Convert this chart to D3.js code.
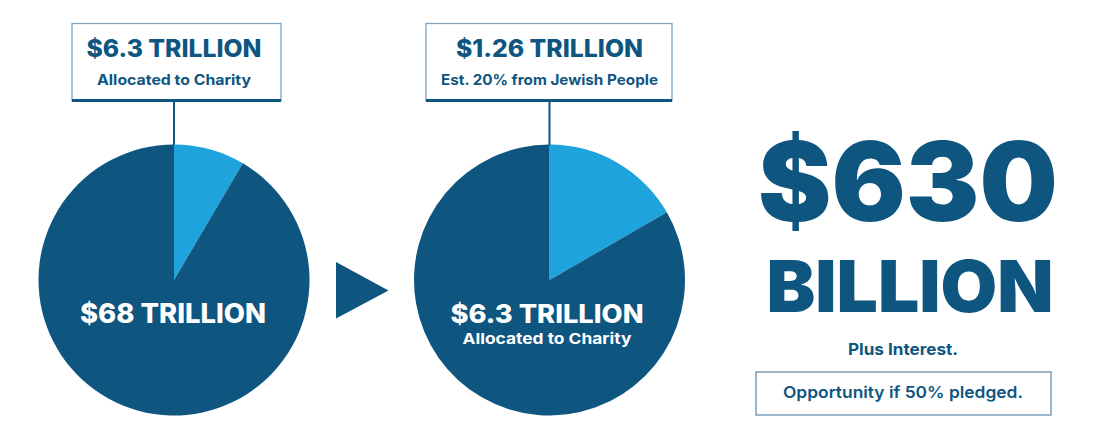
<!DOCTYPE html>
<html><head><meta charset="utf-8">
<script src="https://cdn.jsdelivr.net/npm/d3@7"></script>
<style>body{margin:0;background:#fff}svg{display:block}text{font-family:Inter,Lato,sans-serif}</style>
</head><body>
<svg id="c" width="1100" height="423"></svg>
<script>
// Data
const pie1Labels = ["Allocated to Charity", "Total Wealth"];
const pie1Values = [6.3, 68];
const pie2Labels = ["Est. 20% from Jewish People", "Allocated to Charity"];
const pie2Values = [1.26, 6.3];
const callout1 = ["$6.3 TRILLION", "Allocated to Charity"];
const callout2 = ["$1.26 TRILLION", "Est. 20% from Jewish People"];
const center1 = ["$68 TRILLION"];
const center2 = ["$6.3 TRILLION", "Allocated to Charity"];
const bigValue = ["$630", "BILLION"];
const notes = ["Plus Interest.", "Opportunity if 50% pledged."];

const DARK = "#0e5580", LIGHT = "#1ea3dc", BORDER = "#7fa3bf";
const svg = d3.select("#c");
const pie = d3.pie().sort(null).startAngle(0).endAngle(2 * Math.PI);
const arc = d3.arc().innerRadius(0).outerRadius(135.5);
const color = d3.scaleOrdinal().domain([0, 1]).range([LIGHT, DARK]);

function txt(g, s, x, y, size, weight, fill, width) {
  const t = g.append("text").attr("x", x).attr("y", y).attr("text-anchor", "middle")
    .attr("font-size", size).attr("font-weight", weight).attr("fill", fill).text(s);
  if (width) t.attr("textLength", width).attr("lengthAdjust", "spacingAndGlyphs");
  return t;
}

function drawPie(cx, values, box, callout, capW) {
  const g = svg.append("g");
  g.append("line").attr("x1", cx).attr("x2", cx).attr("y1", box.y + box.h).attr("y2", 146)
    .attr("stroke", DARK).attr("stroke-width", 2);
  const pg = g.append("g").attr("transform", `translate(${cx},280)`);
  pg.selectAll("path").data(pie(values)).join("path")
    .attr("d", arc).attr("fill", (d, i) => color(i));
  g.append("rect").attr("x", box.x).attr("y", box.y).attr("width", box.w).attr("height", box.h)
    .attr("fill", "#fff").attr("stroke", BORDER).attr("stroke-width", 1.3);
  g.append("line").attr("x1", box.x).attr("x2", box.x + box.w).attr("y1", box.y + box.h).attr("y2", box.y + box.h)
    .attr("stroke", DARK).attr("stroke-width", 3);
  txt(g, callout[0], cx, 56.5, 24, 800, DARK, capW[0]);
  txt(g, callout[1], cx, 84.5, 14.5, 700, DARK, capW[1]);
  return g;
}

const g1 = drawPie(174, pie1Values, {x: 72, y: 23.5, w: 209, h: 77}, callout1, [175, 154]);
txt(g1, center1[0], 173, 323, 27, 800, "#fff", 186);

const g2 = drawPie(549.5, pie2Values, {x: 426, y: 23.5, w: 246, h: 77}, callout2, [187, 217]);
txt(g2, center2[0], 547, 323, 25.5, 800, "#fff", 193);
txt(g2, center2[1], 547, 344, 15, 700, "#fff", 169);

// arrow
svg.append("path").attr("d", d3.line()([[336, 262], [388.5, 290.5], [336, 318.5]])).attr("fill", DARK);

// right side
const r = svg.append("g");
txt(r, bigValue[0], 908, 221, 110, 900, DARK, 300);
txt(r, bigValue[1], 910, 312, 72, 900, DARK, 287);
txt(r, notes[0], 903, 355, 16, 700, DARK, 110);
r.append("rect").attr("x", 756).attr("y", 372).attr("width", 295).attr("height", 43)
  .attr("fill", "none").attr("stroke", "#6a8fb0").attr("stroke-width", 1.3);
txt(r, notes[1], 903, 397.5, 16.5, 600, DARK, 240);
</script>
</body></html>
